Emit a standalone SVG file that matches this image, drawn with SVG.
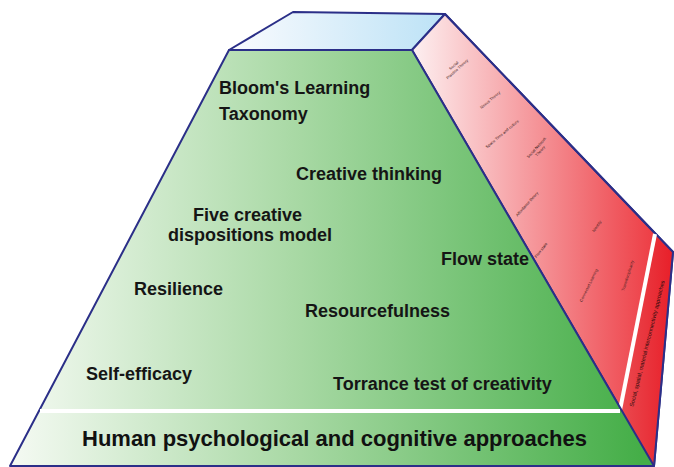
<svg xmlns="http://www.w3.org/2000/svg" width="674" height="467" viewBox="0 0 674 467">
<defs>
<linearGradient id="gGreen" gradientUnits="userSpaceOnUse" x1="10" y1="0" x2="640" y2="0">
<stop offset="0" stop-color="#f5faf3"/>
<stop offset="0.45" stop-color="#a9d9a5"/>
<stop offset="1" stop-color="#45ae48"/>
</linearGradient>
<linearGradient id="gTop" gradientUnits="userSpaceOnUse" x1="229" y1="0" x2="445" y2="0">
<stop offset="0" stop-color="#fafbfe"/>
<stop offset="1" stop-color="#bce2f6"/>
</linearGradient>
<linearGradient id="gRed" gradientUnits="userSpaceOnUse" x1="412" y1="0" x2="673" y2="0">
<stop offset="0" stop-color="#fdf0f1"/>
<stop offset="1" stop-color="#ec2f37"/>
</linearGradient>
<linearGradient id="gStrip" gradientUnits="userSpaceOnUse" x1="620" y1="0" x2="673" y2="0">
<stop offset="0" stop-color="#ea4a50"/>
<stop offset="1" stop-color="#e81f29"/>
</linearGradient>
</defs>
<style>
.edge{stroke:#2b2f88;stroke-width:2;stroke-linejoin:round}
.lbl{font-family:"Liberation Sans",Arial,sans-serif;font-weight:bold;font-size:18px;fill:#151515}
.big{font-family:"Liberation Sans",Arial,sans-serif;font-weight:bold;font-size:22px;fill:#111}
.tiny{font-family:"Liberation Sans",Arial,sans-serif;font-size:4px;fill:#3a2020}
.side{font-family:"Liberation Sans",Arial,sans-serif;font-size:5.6px;fill:#1a0a0a}
.sep{stroke:#ffffff;stroke-width:4;fill:none}
</style>
<rect width="674" height="467" fill="#ffffff"/>
<g id="top-face">
<polygon class="edge" points="229,50 293,12 445,14 412,50" fill="url(#gTop)"/>
</g>
<g id="red-face">
<polygon class="edge" points="412,50 445,14 673,252 654,466" fill="url(#gRed)"/>
<polygon points="655,234 673,252 654,466 641,466 620,410" fill="url(#gStrip)"/>
<polyline class="edge" points="445,14 673,252 654,466" fill="none"/>
<line class="sep" x1="655" y1="234" x2="620" y2="410" stroke-width="3"/>
<text class="side" transform="translate(649,344) rotate(-76)" text-anchor="middle">Social, spatial, material interconnectivity approaches</text>
<g class="tiny">
<text transform="translate(456,68) rotate(-42)" text-anchor="middle"><tspan x="0" y="-2">Social</tspan><tspan x="0" y="3">Practice Theory</tspan></text>
<text transform="translate(491,101) rotate(-40)" text-anchor="middle">Nexus Theory</text>
<text transform="translate(503,135) rotate(-40)" text-anchor="middle">Space Time and culture</text>
<text transform="translate(539,150) rotate(-48)" text-anchor="middle"><tspan x="0" y="-2">Social Network</tspan><tspan x="0" y="3">Theory</tspan></text>
<text transform="translate(528,205) rotate(-48)" text-anchor="middle">Affordance theory</text>
<text transform="translate(542,251) rotate(-52)" text-anchor="middle">Flow state</text>
<text transform="translate(598,227) rotate(-55)" text-anchor="middle">Identity</text>
<text transform="translate(590,286) rotate(-64)" text-anchor="middle">Connected Learning</text>
<text transform="translate(629,276) rotate(-72)" text-anchor="middle">Transdisciplinarity</text>
</g>
</g>
<g id="green-face">
<polygon class="edge" points="229,50 412,50 654,466 10,466" fill="url(#gGreen)"/>
<line class="sep" x1="40" y1="411" x2="620" y2="411"/>
</g>
<g id="labels">
<text class="lbl" x="219" y="94">Bloom's Learning</text>
<text class="lbl" x="219" y="120">Taxonomy</text>
<text class="lbl" x="296" y="180">Creative thinking</text>
<text class="lbl" x="193" y="221" font-size="17.4">Five creative</text>
<text class="lbl" x="168" y="241" font-size="17.4">dispositions model</text>
<text class="lbl" x="441" y="265">Flow state</text>
<text class="lbl" x="134" y="295">Resilience</text>
<text class="lbl" x="305" y="317">Resourcefulness</text>
<text class="lbl" x="86" y="380">Self-efficacy</text>
<text class="lbl" x="333" y="390">Torrance test of creativity</text>
<text class="big" x="82" y="446">Human psychological and cognitive approaches</text>
</g>
</svg>
